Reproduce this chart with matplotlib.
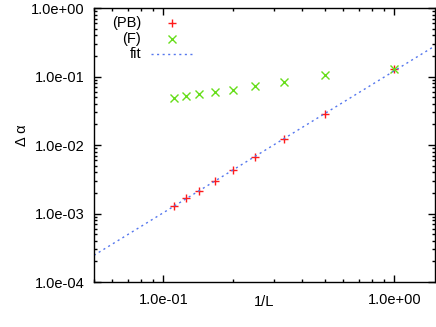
import numpy as np
import matplotlib
matplotlib.use("Agg")
import matplotlib.pyplot as plt
from matplotlib.ticker import FuncFormatter, LogLocator

plt.rcParams['font.family'] = ['Liberation Sans', 'DejaVu Sans']

# data
inv_L = [0.1111, 0.125, 0.1429, 0.1667, 0.2, 0.25, 0.3333, 0.5, 1.0]
delta_pb = [0.00129, 0.00167, 0.00215, 0.00298, 0.00432, 0.00676, 0.0121, 0.0284, 0.127]
delta_f = [0.0491, 0.0514, 0.0550, 0.0588, 0.0641, 0.0734, 0.0840, 0.105, 0.127]

# power law fit  a * x^b
fit_a = 0.121
fit_b = 2.07

XMIN, XMAX = 0.05, 1.5
YMIN, YMAX = 1e-4, 1.0

fig = plt.figure(figsize=(4.36, 3.27), dpi=100)
ax = fig.add_axes([0.2156, 0.1376, 0.7821, 0.8379])

ax.plot(inv_L, delta_pb, linestyle='none', marker='+', color='#ff1a1a', markersize=6, markeredgewidth=1.0)
ax.plot(inv_L, delta_f, linestyle='none', marker='x', color='#66dd1a', markersize=5.5, markeredgewidth=1.0)
xfit = np.logspace(np.log10(XMIN), np.log10(XMAX), 200)
ax.plot(xfit, fit_a * xfit ** fit_b, linestyle=(0, (1.5, 2.5)), color='#5577ee', linewidth=1.0)

ax.set_xscale('log')
ax.set_yscale('log')
ax.set_xlim(XMIN, XMAX)
ax.set_ylim(YMIN, YMAX)

fmt = FuncFormatter(lambda v, pos: "%.1e" % v)
ax.xaxis.set_major_locator(LogLocator(base=10))
ax.yaxis.set_major_locator(LogLocator(base=10))
ax.xaxis.set_major_formatter(fmt)
ax.yaxis.set_major_formatter(fmt)
ax.xaxis.set_minor_locator(LogLocator(base=10, subs=np.arange(2, 10)))
ax.yaxis.set_minor_locator(LogLocator(base=10, subs=np.arange(2, 10)))
ax.xaxis.set_minor_formatter(plt.NullFormatter())
ax.yaxis.set_minor_formatter(plt.NullFormatter())

ax.tick_params(which='both', direction='in', top=True, right=True, width=1.0, labelsize=10.5)
ax.tick_params(which='major', length=5)
ax.tick_params(which='minor', length=2.5)
ax.tick_params(axis='y', pad=7)
ax.tick_params(axis='x', pad=8)
for s in ax.spines.values():
    s.set_linewidth(1.0)

ax.set_xlabel('1/L', fontsize=10.5)
ax.set_ylabel('Δ α', fontsize=10.5)
ax.xaxis.set_label_coords(0.5, -0.073)
ax.xaxis.label.set_va('center')
ax.yaxis.set_label_coords(-0.2126, 0.536)
ax.yaxis.label.set_va('center')

# gnuplot style key: right aligned text, sample on the right
key_rows = [0.945, 0.887, 0.832]
ax.text(0.138, key_rows[0], '(PB)', transform=ax.transAxes, ha='right', va='center', fontsize=10.5)
ax.text(0.138, key_rows[1], '(F)', transform=ax.transAxes, ha='right', va='center', fontsize=10.5)
ax.text(0.138, key_rows[2], 'fit', transform=ax.transAxes, ha='right', va='center', fontsize=10.5)
ax.plot([0.229], [key_rows[0]], transform=ax.transAxes, marker='+', color='#ff1a1a', markersize=6, markeredgewidth=1.0)
ax.plot([0.229], [key_rows[1]], transform=ax.transAxes, marker='x', color='#66dd1a', markersize=5.5, markeredgewidth=1.0)
ax.plot([0.167, 0.29], [key_rows[2], key_rows[2]], transform=ax.transAxes, linestyle=(0, (1.5, 2.5)), color='#5577ee', linewidth=1.0)

fig.savefig('out.png', dpi=100)
